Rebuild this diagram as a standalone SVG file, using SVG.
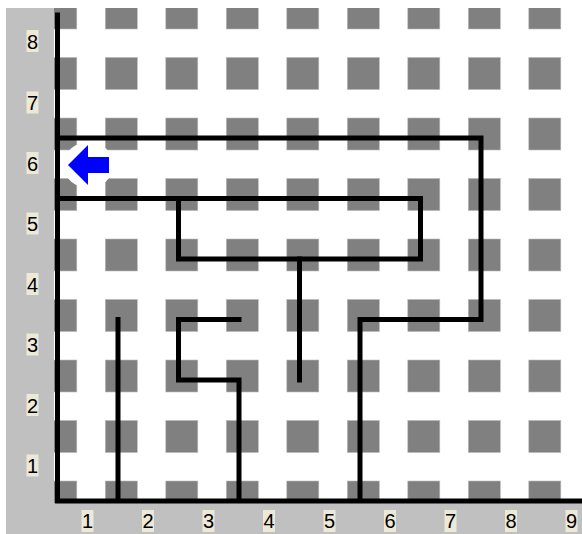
<svg xmlns="http://www.w3.org/2000/svg" width="582" height="534" viewBox="0 0 582 534">
<defs>
<style>
.sq{fill:#808080;stroke:#b8b8b8;stroke-width:0.6}
.wall{fill:none;stroke:#000;stroke-width:5;stroke-linejoin:miter;stroke-linecap:square}
.band{fill:#c0c0c0}
.lb{fill:#ece9d8}
.t{font-family:"Liberation Sans",Arial,sans-serif;font-size:20px;fill:#000;text-anchor:middle}
</style>
<g id="sqpattern">
<rect class="sq" x="44.8" y="0" width="32" height="32"/>
<rect class="sq" x="105.3" y="0" width="32" height="32"/>
<rect class="sq" x="165.8" y="0" width="32" height="32"/>
<rect class="sq" x="226.3" y="0" width="32" height="32"/>
<rect class="sq" x="286.8" y="0" width="32" height="32"/>
<rect class="sq" x="347.3" y="0" width="32" height="32"/>
<rect class="sq" x="407.8" y="0" width="32" height="32"/>
<rect class="sq" x="468.3" y="0" width="32" height="32"/>
<rect class="sq" x="528.8" y="0" width="32" height="32"/>
</g>
</defs>
<rect x="0" y="0" width="582" height="534" fill="#fff"/>
<g id="squares">
<use href="#sqpattern" y="-3"/>
<use href="#sqpattern" y="57.5"/>
<use href="#sqpattern" y="118"/>
<use href="#sqpattern" y="178.5"/>
<use href="#sqpattern" y="239"/>
<use href="#sqpattern" y="299.5"/>
<use href="#sqpattern" y="360"/>
<use href="#sqpattern" y="420.5"/>
<use href="#sqpattern" y="481"/>
</g>
<rect x="0" y="0" width="582" height="8" fill="#fff"/>
<g id="walls">
<path class="wall" d="M57.5,138 H481 V319.5 H360 V501"/>
<path class="wall" d="M57.5,198.5 H420.5 V259 H178.5 V198.5"/>
<path class="wall" d="M299.5,259 V380"/>
<path class="wall" d="M118,319.5 V501"/>
<path class="wall" d="M239,319.5 H178.5 V380 H239 V501"/>
</g>
<g id="bands">
<rect class="band" x="6" y="8" width="48" height="526"/>
<rect class="band" x="6" y="503" width="576" height="31"/>
</g>
<g id="axes">
<path class="wall" d="M57.5,15 V501 H582" stroke-linecap="butt"/>
</g>
<g id="ylabels">
<rect class="lb" x="26.5" y="30" width="12" height="22"/><text class="t" x="32.5" y="48.5">8</text>
<rect class="lb" x="26.5" y="91.5" width="12" height="22"/><text class="t" x="32.5" y="110">7</text>
<rect class="lb" x="26.5" y="152" width="12" height="22"/><text class="t" x="32.5" y="170.5">6</text>
<rect class="lb" x="26.5" y="212.5" width="12" height="22"/><text class="t" x="32.5" y="231">5</text>
<rect class="lb" x="26.5" y="273" width="12" height="22"/><text class="t" x="32.5" y="291.5">4</text>
<rect class="lb" x="26.5" y="333.5" width="12" height="22"/><text class="t" x="32.5" y="352">3</text>
<rect class="lb" x="26.5" y="394" width="12" height="22"/><text class="t" x="32.5" y="412.5">2</text>
<rect class="lb" x="26.5" y="454.5" width="12" height="22"/><text class="t" x="32.5" y="473">1</text>
</g>
<g id="xlabels">
<rect class="lb" x="81.5" y="510" width="12" height="22"/><text class="t" x="87.5" y="528">1</text>
<rect class="lb" x="142" y="510" width="12" height="22"/><text class="t" x="148" y="528">2</text>
<rect class="lb" x="202.5" y="510" width="12" height="22"/><text class="t" x="208.5" y="528">3</text>
<rect class="lb" x="263" y="510" width="12" height="22"/><text class="t" x="269" y="528">4</text>
<rect class="lb" x="323.5" y="510" width="12" height="22"/><text class="t" x="329.5" y="528">5</text>
<rect class="lb" x="384" y="510" width="12" height="22"/><text class="t" x="390" y="528">6</text>
<rect class="lb" x="444.5" y="510" width="12" height="22"/><text class="t" x="450.5" y="528">7</text>
<rect class="lb" x="505" y="510" width="12" height="22"/><text class="t" x="511" y="528">8</text>
<rect class="lb" x="565.5" y="510" width="12" height="22"/><text class="t" x="571.5" y="528">9</text>
</g>
<g id="arrow">
<ellipse cx="88.5" cy="165" rx="25" ry="23" fill="#fff"/>
<polygon points="68,165 88,145 88,157 109,157 109,173 88,173 88,185" fill="#0000ff"/>
</g>
</svg>
